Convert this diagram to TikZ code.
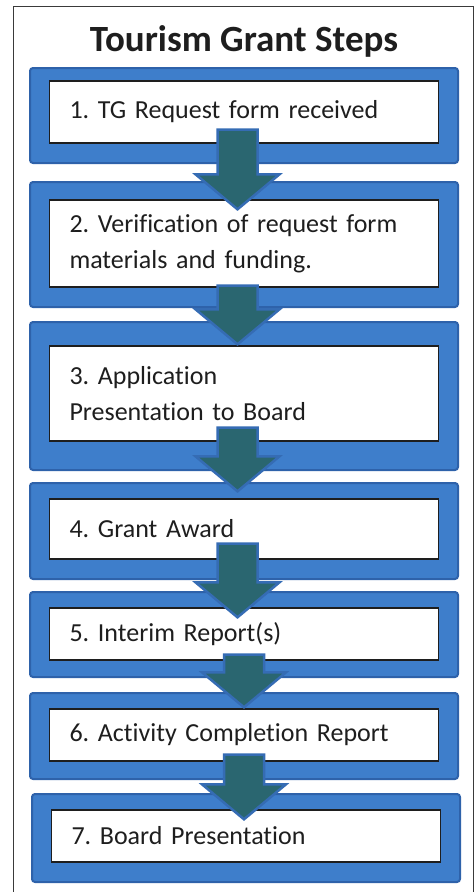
\documentclass[tikz,border=0pt]{standalone}
\usepackage{fontspec}
\setmainfont[Ligatures=NoCommon]{Carlito}
\usepackage{tikz}
\usetikzlibrary{calc}
\definecolor{stepblue}{HTML}{3E7ECB}
\definecolor{stepedge}{HTML}{2E62AA}
\definecolor{arrowteal}{HTML}{2A6670}
\definecolor{arrowedge}{HTML}{356CB4}
\definecolor{inkgray}{HTML}{1E1E1E}
\definecolor{framegray}{HTML}{3A3A3A}
\tikzset{
  stepframe/.style={rectangle, rounded corners=3pt, fill=stepblue, draw=stepedge,
                    line width=2pt, minimum width=428pt},
  stepbox/.style={rectangle, fill=white, draw=inkgray, line width=1.4pt,
                  minimum width=389pt, text width=349pt, inner xsep=20pt,
                  align=left, text=inkgray, font=\fontsize{26}{36}\selectfont},
  flowarrow/.style={fill=arrowteal, draw=arrowedge, line width=2.5pt, line join=miter}
}
% block arrow from the bottom of one step into the next
\newcommand{\stepflow}[4]{%
  \draw[flowarrow] let \p1=($(#1.south)+#3$), \p2=($(#2.north)+#4$) in
    (\x1-20pt,\y1) -- (\x1+20pt,\y1) -- (\x1+20pt,\y2+35pt) -- (\x1+42pt,\y2+35pt)
    -- (\x1,\y2) -- (\x1-42pt,\y2+35pt) -- (\x1-20pt,\y2+35pt) -- cycle;}
\frenchspacing

\begin{document}
\begin{tikzpicture}[x=1pt, y=-1pt]
  \useasboundingbox (0,0) rectangle (475,892);
  \draw[framegray, line width=1pt] (13,892) -- (13,6) -- (473,6) -- (473,892);

  \node[text=inkgray, font=\fontsize{37}{42}\selectfont\bfseries] (title) at (244,41) {Tourism Grant Steps};

  % blue frames
  \node[stepframe, minimum height=95pt]  (o1) at (244,115.5) {};
  \node[stepframe, minimum height=125pt] (o2) at (244,244.5) {};
  \node[stepframe, minimum height=148pt] (o3) at (244,396) {};
  \node[stepframe, minimum height=96pt]  (o4) at (244,531) {};
  \node[stepframe, minimum height=85pt]  (o5) at (244,634.5) {};
  \node[stepframe, minimum height=86pt]  (o6) at (244,736) {};
  \node[stepframe, minimum height=88pt]  (o7) at (246,838) {};

  % step texts
  \node[stepbox, minimum height=62pt] (s1) at (o1.center |- 0,112) {1. TG Request form received};
  \node[stepbox, minimum height=87pt] (s2) at (o2.center |- 0,243.5) {2. Verification of request form\\materials and funding.};
  \node[stepbox, minimum height=95pt] (s3) at (o3.center |- 0,393.5) {3. Application\\Presentation to Board};
  \node[stepbox, minimum height=60pt] (s4) at (o4.center |- 0,529) {4. Grant Award};
  \node[stepbox, minimum height=52pt] (s5) at (o5.center |- 0,634) {5. Interim Report(s)};
  \node[stepbox, minimum height=52pt] (s6) at (o6.center |- 0,735) {6. Activity Completion Report};
  \node[stepbox, minimum height=52pt] (s7) at (o7.center |- 0,836) {7. Board Presentation};

  \stepflow{s1}{s2}{(-6.5,-14)}{(0,10)}
  \stepflow{s2}{s3}{(-6.5,-2)}{(0,-1)}
  \stepflow{s3}{s4}{(-6.5,-14)}{(0,-7)}
  \stepflow{s4}{s5}{(-6.5,-16)}{(0,10)}
  \stepflow{s5}{s6}{(0,-6)}{(0,-1)}
  \stepflow{s6}{s7}{(0,-7)}{(0,10)}
\end{tikzpicture}
\end{document}
